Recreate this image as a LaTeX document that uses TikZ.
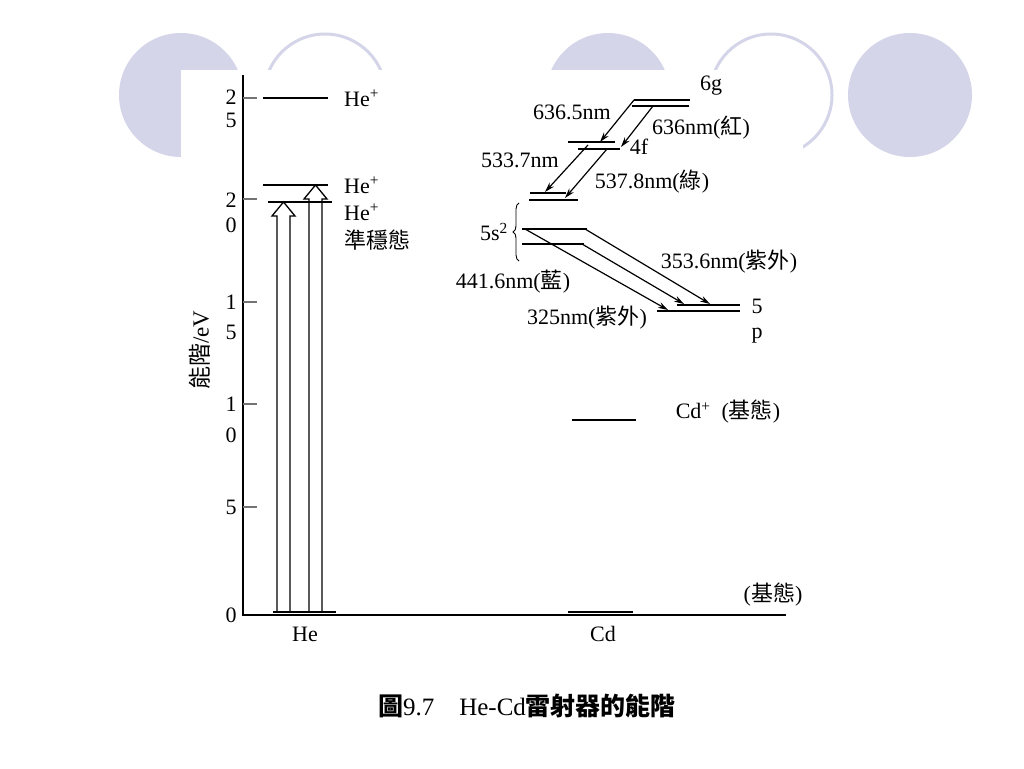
\documentclass[tikz,border=0pt]{standalone}
\usepackage{fontspec}
\setmainfont{Liberation Serif}
\newfontfamily\cjk{Noto Sans CJK TC}
\usetikzlibrary{arrows.meta,decorations.pathreplacing}
\definecolor{lav}{RGB}{213,213,234}
\begin{document}
\begin{tikzpicture}[x=1pt,y=-1pt,
  lvl/.style={line width=2.8pt},
  axisline/.style={line width=1.6pt},
  tickmark/.style={line width=1.2pt, draw=black!55},
  trans/.style={line width=1.2pt, -{Stealth[length=10pt,width=6pt]}},
  hollow/.style={line width=1.3pt},
  lab/.style={font=\fontsize{22}{24}\selectfont, inner sep=0pt},
  dig/.style={font=\fontsize{22}{24}\selectfont, inner sep=0pt},
  bgring/.style={draw=lav, line width=3pt},
]
\useasboundingbox (0,0) rectangle (1024,768);
\fill[white] (0,0) rectangle (1024,768);
% background circles
\fill[lav] (181,95) circle (62);
\draw[bgring] (325,95) circle (61);
\fill[lav] (608,95) circle (62);
\draw[bgring] (771,95) circle (61);
\fill[lav] (910,95) circle (62);
\fill[white] (181,70) rectangle (803,768);

% axes
\coordinate (ytop) at (243,75);
\coordinate (o) at (243,615);
\coordinate (xend) at (786,615);
\draw[axisline] (ytop) -- (o) -- (xend);
\foreach \y in {98,199,302,404,507} \draw[tickmark] (243,\y) -- ++(14,0);
\node[dig] (d25a) at (231,97) {2};
\node[dig] (d25b) at (231,120) {5};
\node[dig] (d20a) at (231,200) {2};
\node[dig] (d20b) at (231,225) {0};
\node[dig] (d15a) at (231,302) {1};
\node[dig] (d15b) at (231,332) {5};
\node[dig] (d10a) at (231,404) {1};
\node[dig] (d10b) at (231,435) {0};
\node[dig] (d5) at (231,507) {5};
\node[dig] (d0) at (231,615) {0};
\node[lab, rotate=90, font=\fontsize{23}{26}\selectfont] (ylab) at (200,350) {{\cjk 能階}/eV};

% He hollow arrows
\draw[hollow] (277,612) -- (277,216) -- (272,216) -- (283.5,202) -- (295,216) -- (290,216) -- (290,612);
\draw[hollow] (309,612) -- (309,199) -- (304,199) -- (315.5,185) -- (327,199) -- (322,199) -- (322,612);

% He levels
\draw[lvl] (263,98) -- (328,98);
\draw[lvl] (263,185) -- (328,185);
\draw[lvl] (268,202) -- (332,202);
\draw[lvl] (273,612) -- (336,612);
\node[lab, anchor=west] (heion) at (344,98) {He\textsuperscript{+}};
\node[lab, anchor=west] (he1) at (344,185) {He\textsuperscript{+}};
\node[lab, anchor=west] (he2) at (344,212) {He\textsuperscript{+}};
\node[lab, anchor=west] (meta) at (344,240) {\cjk 準穩態};

% Cd levels
\draw[lvl] (634,100) -- (690,100);
\draw[lvl] (632,106) -- (689,106);
\draw[lvl] (568,142) -- (615,142);
\draw[lvl] (578,149) -- (620,149);
\draw[lvl] (530,193) -- (566,193);
\draw[lvl] (529,200) -- (578,200);
\draw[lvl] (522,229) -- (587,229);
\draw[lvl] (522,244) -- (584,244);
\draw[lvl] (677,305) -- (740,305);
\draw[lvl] (657,311) -- (740,311);
\draw[lvl] (572,420) -- (636,420);
\draw[lvl] (568,612) -- (633,612);

% transition end points
\coordinate (s1) at (634,100); \coordinate (e1) at (600,142);
\coordinate (s2) at (653,106); \coordinate (e2) at (621,147);
\coordinate (s3) at (588,145); \coordinate (e3) at (545,192);
\coordinate (s4) at (607,149); \coordinate (e4) at (565,198);
\coordinate (sa) at (525,229); \coordinate (ea) at (668,310);
\coordinate (sb) at (582,244); \coordinate (eb) at (684,304);
\coordinate (sc) at (585,229); \coordinate (ec) at (710,304);
\draw[trans] (s1) -- (e1);
\draw[trans] (s2) -- (e2);
\draw[trans] (s3) -- (e3);
\draw[trans] (s4) -- (e4);
\draw[trans] (sa) -- (ea);
\draw[trans] (sb) -- (eb);
\draw[trans] (sc) -- (ec);

% brace
\coordinate (brb) at (519,261);
\coordinate (brt) at (519,203);
\draw[line width=0.9pt, decorate, decoration={brace, amplitude=6pt}] (brb) -- (brt);

% Cd labels
\node[lab] (l6g) at (711,86) {6g};
\node[lab] (l6365) at (572,112) {636.5nm};
\node[lab] (l636) at (701,128) {636nm({\cjk 紅})};
\node[lab] (l4f) at (639,147) {4f};
\node[lab] (l5337) at (520,160) {533.7nm};
\node[lab] (l5378) at (652,182) {537.8nm({\cjk 綠})};
\node[lab] (l5s) at (494,232) {5s\textsuperscript{2}};
\node[lab] (l3536) at (729,262) {353.6nm({\cjk 紫外})};
\node[lab] (l4416) at (513,282) {441.6nm({\cjk 藍})};
\node[lab] (l325) at (587,318) {325nm({\cjk 紫外})};
\node[lab] (l5) at (757,306) {5};
\node[lab] (lp) at (757,336) {p};
\node[lab] (lcdion) at (728,412) {Cd\textsuperscript{+}\ \ ({\cjk 基態})};
\node[lab] (lground) at (773,595) {({\cjk 基態})};
\node[lab] (lhe) at (305,634) {He};
\node[lab] (lcd) at (603,634) {Cd};
\node[lab, font=\fontsize{25}{28}\selectfont] (caption) at (527,706) {{\cjk\bfseries 圖}9.7\quad He-Cd{\cjk\bfseries 雷射器的能階}};
\end{tikzpicture}
\end{document}
